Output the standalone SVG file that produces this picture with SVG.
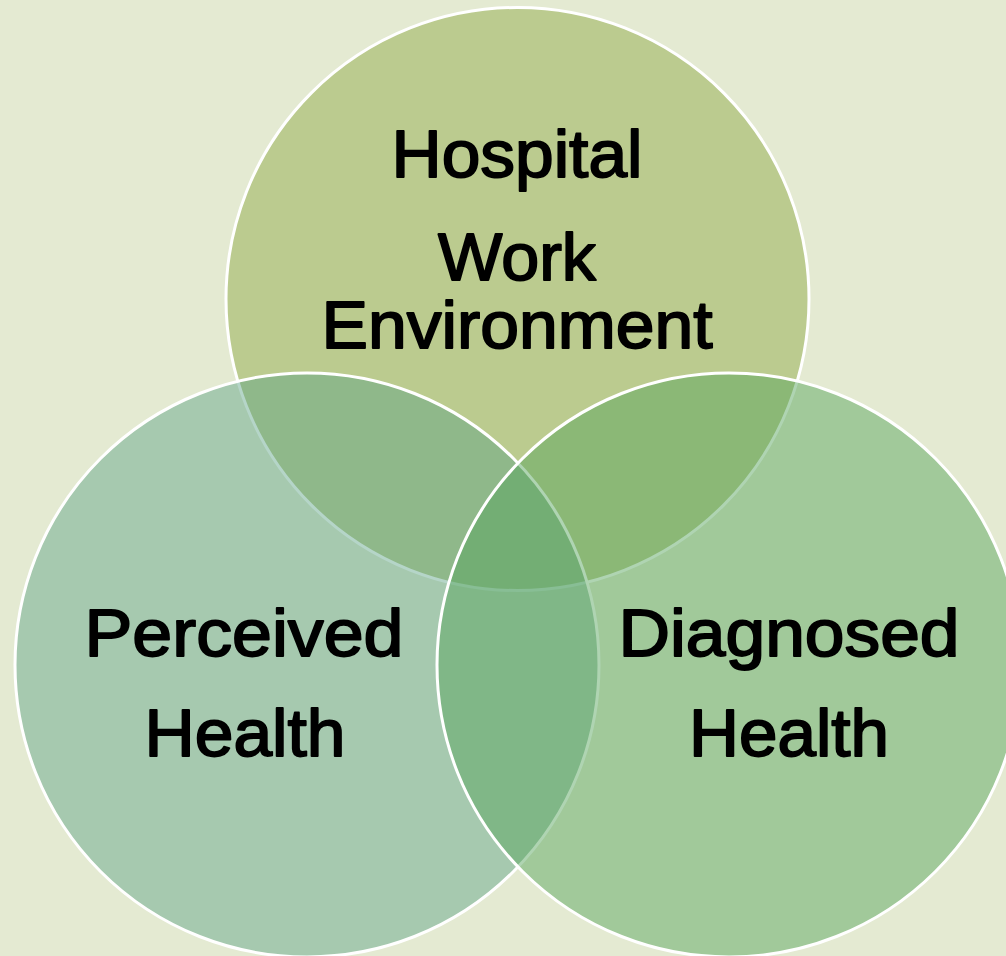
<svg xmlns="http://www.w3.org/2000/svg" width="1006" height="956" viewBox="0 0 1006 956">
<style>
.c{stroke:#ffffff;stroke-width:3}
.t{font-family:"Liberation Sans",Arial,sans-serif;font-size:66px;fill:#000;stroke:#000;stroke-width:1.8;stroke-linejoin:round;text-anchor:middle}
</style>
<rect x="0" y="0" width="1006" height="956" fill="#e4ead2"/>
<g id="node-hospital">
<circle class="c" cx="517.5" cy="299" r="291.5" fill="#bbcb8f"/>
</g>
<g id="node-perceived">
<circle class="c" cx="307" cy="665" r="292" fill="rgb(90,161,134)" fill-opacity="0.45"/>
</g>
<g id="node-diagnosed">
<circle class="c" cx="729" cy="665" r="292" fill="rgb(84,164,92)" fill-opacity="0.47"/>
</g>
<g id="connectors"></g>
<g id="labels">
<text class="t" x="517" y="177" textLength="251" lengthAdjust="spacingAndGlyphs">Hospital</text>
<text class="t" x="517" y="280" textLength="158" lengthAdjust="spacingAndGlyphs">Work</text>
<text class="t" x="517" y="348" textLength="391" lengthAdjust="spacingAndGlyphs">Environment</text>
<text class="t" x="244" y="656" textLength="319" lengthAdjust="spacingAndGlyphs">Perceived</text>
<text class="t" x="245" y="756" textLength="201" lengthAdjust="spacingAndGlyphs">Health</text>
<text class="t" x="789" y="656" textLength="341" lengthAdjust="spacingAndGlyphs">Diagnosed</text>
<text class="t" x="789" y="756" textLength="200" lengthAdjust="spacingAndGlyphs">Health</text>
</g>
</svg>
